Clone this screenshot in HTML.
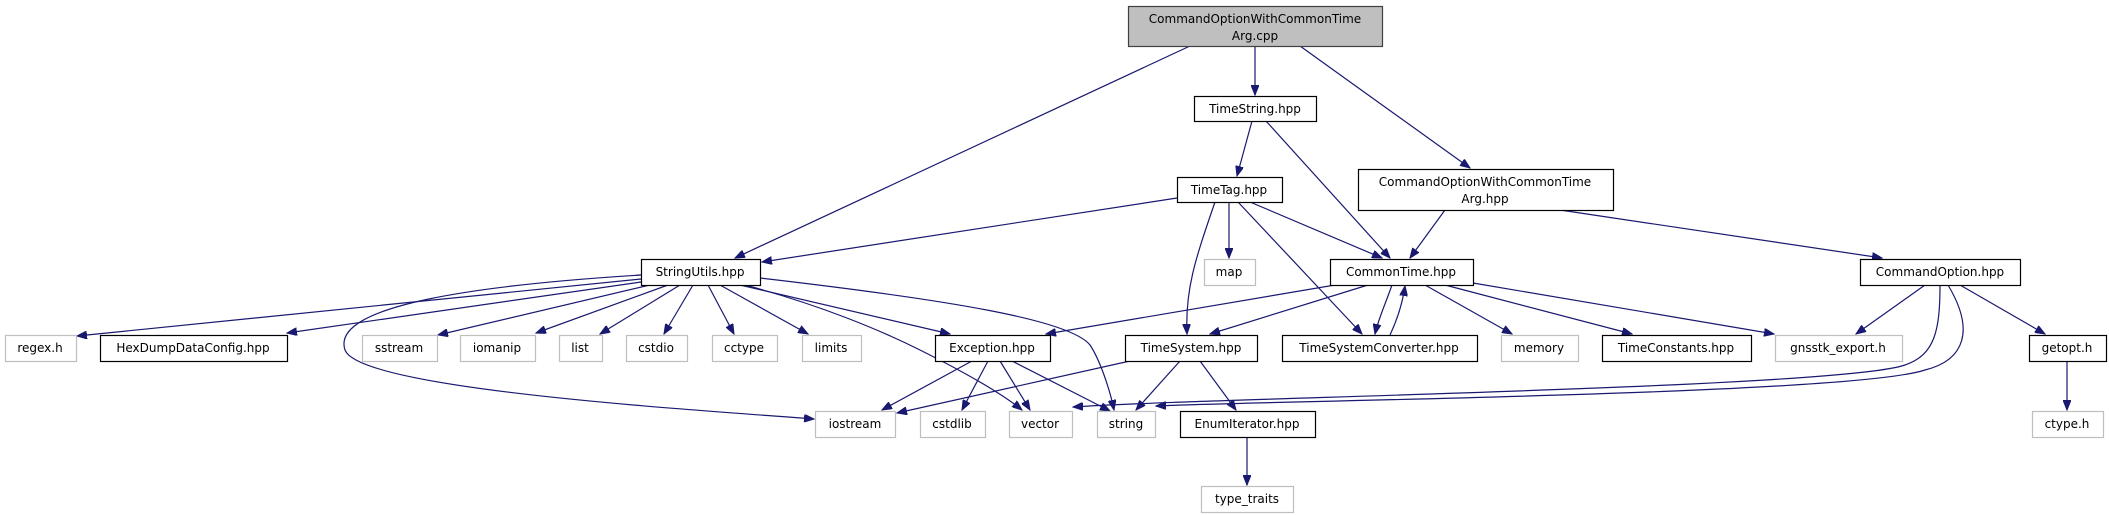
<!DOCTYPE html>
<html><head><meta charset="utf-8"><style>
html,body{margin:0;padding:0;background:#fff;}
svg{display:block;}
text{font-family:"DejaVu Sans","Liberation Sans",sans-serif;font-size:12px;fill:#000;}
</style></head><body>
<svg width="2109" height="515" viewBox="0 0 2109 515" xmlns="http://www.w3.org/2000/svg">
<defs>
<marker id="a" markerWidth="11" markerHeight="8" refX="10" refY="4" orient="auto" markerUnits="userSpaceOnUse">
<path d="M0,0 L10,4 L0,8 z" fill="#191970" stroke="#191970"/>
</marker>
</defs>
<g fill="none" stroke="#191970" stroke-width="1.2" marker-end="url(#a)">
<path d="M1190,46 L735,258"/>
<path d="M1255,46 L1255,95"/>
<path d="M1300,46 L1470,168"/>
<path d="M1252,121 L1237,176"/>
<path d="M1266,121 L1390,258"/>
<path d="M1177,198 L762,262"/>
<path d="M1229,202 L1229,258"/>
<path d="M1250,202 L1382,258"/>
<path d="M1215,202 C1195,260 1185,290 1187,334"/>
<path d="M1238,202 L1362,334"/>
<path d="M1445,210 L1410,258"/>
<path d="M1560,210 L1882,258"/>
<path d="M641,279 L77,336"/>
<path d="M641,282 L287,333"/>
<path d="M641,275 C480,285 330,305 345,350 C360,390 700,410 814,419"/>
<path d="M650,285 L438,335"/>
<path d="M668,285 L536,333"/>
<path d="M680,285 L600,334"/>
<path d="M693,285 L664,334"/>
<path d="M708,285 L734,334"/>
<path d="M720,285 L808,334"/>
<path d="M740,285 L950,334"/>
<path d="M745,285 C820,305 880,330 920,350 C960,370 1000,392 1022,410"/>
<path d="M760,278 C950,300 1070,320 1090,345 C1100,360 1110,390 1114,410"/>
<path d="M1335,285 L1046,334"/>
<path d="M1368,285 L1210,334"/>
<path d="M1392,285 C1385,305 1378,320 1375,334"/>
<path d="M1390,335 C1398,318 1403,300 1405,286"/>
<path d="M1425,285 L1512,334"/>
<path d="M1445,285 L1632,334"/>
<path d="M1473,283 L1774,334"/>
<path d="M972,361 L882,410"/>
<path d="M988,361 L962,410"/>
<path d="M1000,361 L1030,410"/>
<path d="M1012,361 L1110,411"/>
<path d="M1130,361 L897,413"/>
<path d="M1180,361 L1136,410"/>
<path d="M1200,361 L1236,410"/>
<path d="M1247,437 L1247,485"/>
<path d="M1925,285 L1856,334"/>
<path d="M1940,285 C1940,330 1935,355 1905,365 C1840,388 1200,398 1073,407"/>
<path d="M1948,285 C1975,330 1965,360 1925,370 C1850,395 1250,401 1156,406"/>
<path d="M1960,285 L2045,334"/>
<path d="M2067,361 L2067,410"/>
</g>
<g stroke-width="1.2">
<rect x="1128.5" y="6.5" width="254" height="40" fill="#bfbfbf" stroke="#404040"/>
<rect x="1194.5" y="96.5" width="122" height="25" fill="#fff" stroke="#000"/>
<rect x="1177.5" y="177.5" width="105" height="25" fill="#fff" stroke="#000"/>
<rect x="1358.5" y="169.5" width="255" height="41" fill="#fff" stroke="#000"/>
<rect x="641.5" y="259.5" width="119" height="26" fill="#fff" stroke="#000"/>
<rect x="1330.5" y="259.5" width="143" height="26" fill="#fff" stroke="#000"/>
<rect x="1204.5" y="259.5" width="51" height="26" fill="#fff" stroke="#bfbfbf"/>
<rect x="1860.5" y="259.5" width="160" height="26" fill="#fff" stroke="#000"/>
<rect x="5.5" y="335.5" width="71" height="26" fill="#fff" stroke="#bfbfbf"/>
<rect x="100.5" y="335.5" width="187" height="26" fill="#fff" stroke="#000"/>
<rect x="362.5" y="335.5" width="75" height="26" fill="#fff" stroke="#bfbfbf"/>
<rect x="460.5" y="335.5" width="75" height="26" fill="#fff" stroke="#bfbfbf"/>
<rect x="559.5" y="335.5" width="43" height="26" fill="#fff" stroke="#bfbfbf"/>
<rect x="626.5" y="335.5" width="61" height="26" fill="#fff" stroke="#bfbfbf"/>
<rect x="712.5" y="335.5" width="65" height="26" fill="#fff" stroke="#bfbfbf"/>
<rect x="802.5" y="335.5" width="59" height="26" fill="#fff" stroke="#bfbfbf"/>
<rect x="935.5" y="335.5" width="115" height="26" fill="#fff" stroke="#000"/>
<rect x="1125.5" y="335.5" width="132" height="26" fill="#fff" stroke="#000"/>
<rect x="1282.5" y="335.5" width="195" height="26" fill="#fff" stroke="#000"/>
<rect x="1501.5" y="335.5" width="77" height="26" fill="#fff" stroke="#bfbfbf"/>
<rect x="1602.5" y="335.5" width="149" height="26" fill="#fff" stroke="#000"/>
<rect x="1775.5" y="335.5" width="127" height="26" fill="#fff" stroke="#bfbfbf"/>
<rect x="2029.5" y="335.5" width="77" height="26" fill="#fff" stroke="#000"/>
<rect x="815.5" y="411.5" width="80" height="26" fill="#fff" stroke="#bfbfbf"/>
<rect x="920.5" y="411.5" width="65" height="26" fill="#fff" stroke="#bfbfbf"/>
<rect x="1009.5" y="411.5" width="63" height="26" fill="#fff" stroke="#bfbfbf"/>
<rect x="1097.5" y="411.5" width="58" height="26" fill="#fff" stroke="#bfbfbf"/>
<rect x="1180.5" y="411.5" width="135" height="26" fill="#fff" stroke="#000"/>
<rect x="2032.5" y="411.5" width="71" height="26" fill="#fff" stroke="#bfbfbf"/>
<rect x="1201.5" y="486.5" width="92" height="26" fill="#fff" stroke="#bfbfbf"/>
</g>
<g text-anchor="middle">
<text x="1255" y="23">CommandOptionWithCommonTime</text>
<text x="1255" y="40">Arg.cpp</text>
<text x="1255" y="113">TimeString.hpp</text>
<text x="1229" y="194">TimeTag.hpp</text>
<text x="1485" y="186">CommandOptionWithCommonTime</text>
<text x="1485" y="203">Arg.hpp</text>
<text x="700" y="276">StringUtils.hpp</text>
<text x="1401" y="276">CommonTime.hpp</text>
<text x="1229" y="276">map</text>
<text x="1940" y="276">CommandOption.hpp</text>
<text x="40" y="352">regex.h</text>
<text x="193" y="352">HexDumpDataConfig.hpp</text>
<text x="399" y="352">sstream</text>
<text x="497" y="352">iomanip</text>
<text x="580" y="352">list</text>
<text x="656" y="352">cstdio</text>
<text x="744" y="352">cctype</text>
<text x="831" y="352">limits</text>
<text x="992" y="352">Exception.hpp</text>
<text x="1191" y="352">TimeSystem.hpp</text>
<text x="1379" y="352">TimeSystemConverter.hpp</text>
<text x="1539" y="352">memory</text>
<text x="1676" y="352">TimeConstants.hpp</text>
<text x="1838" y="352">gnsstk_export.h</text>
<text x="2067" y="352">getopt.h</text>
<text x="855" y="428">iostream</text>
<text x="952" y="428">cstdlib</text>
<text x="1040" y="428">vector</text>
<text x="1126" y="428">string</text>
<text x="1247" y="428">EnumIterator.hpp</text>
<text x="2067" y="428">ctype.h</text>
<text x="1247" y="503">type_traits</text>
</g>
</svg>
</body></html>
